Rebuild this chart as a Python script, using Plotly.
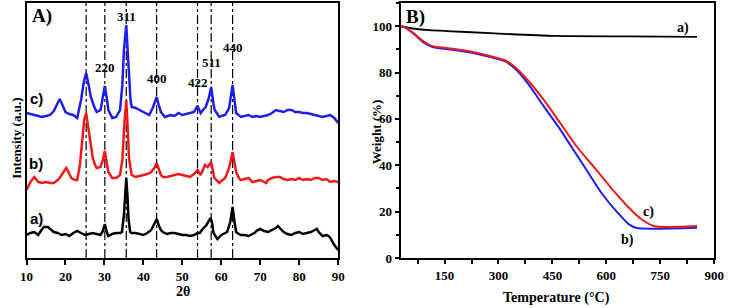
import plotly.graph_objects as go

# ---------------- XRD (panel A) ----------------
theta_a = [10, 11, 12, 13, 14, 14.5, 15.5, 16, 17, 18, 19, 20, 21, 22, 23, 24, 25, 26, 27, 28, 29, 29.6, 30.1, 30.6,
           31, 32, 33, 34, 34.5, 35, 35.3, 35.6, 35.9, 36.2, 36.6, 37, 38, 39, 40, 41, 42, 42.8, 43.4, 44, 44.5, 45,
           46, 47, 48, 49, 50, 51, 52, 53, 53.9, 54.5, 55, 56.2, 56.8, 57.2, 57.6, 58, 59, 60, 61, 61.5, 62.3, 62.9,
           63.4, 63.8, 64.5, 65, 66, 67, 68, 68.5, 69, 70, 71, 72, 73, 74, 74.5, 75, 76, 77, 78, 79, 80, 81, 82, 83,
           84, 84.5, 85, 86, 87, 87.5, 88, 89, 90]
ypix_a = [235, 233, 232, 235, 229, 227, 227, 229, 232, 233, 235, 234, 236, 233, 231, 233, 235, 234, 233, 234, 235, 231, 224, 232,
          236, 234, 233, 233, 232, 215, 195, 178, 195, 220, 232, 233, 233, 234, 235, 233, 230, 224, 219, 226, 230, 232,
          234, 233, 233, 234, 235, 235, 236, 235, 233, 233, 230, 225, 221, 218, 222, 233, 239, 235, 233, 232, 222, 207,
          222, 232, 234, 235, 235, 236, 234, 233, 231, 229, 231, 232, 230, 228, 226, 228, 232, 234, 235, 233, 232, 234, 233, 232,
          230, 229, 232, 236, 235, 236, 238, 245, 250]

theta_b = [10, 10.5, 11, 12, 12.5, 13, 14, 15, 16, 17, 18, 18.5, 19.5, 20.2, 21, 21.5, 22.5, 23, 23.7, 24.3, 24.8, 25.3,
           25.8, 26.5, 27, 27.5, 28, 29, 29.6, 30.1, 30.6, 31, 32, 33, 34, 34.6, 35.1, 35.6, 36, 36.3, 37, 38, 39, 40,
           41, 42, 42.8, 43.4, 44, 44.5, 45, 46, 47, 48, 49, 50, 51, 52, 53, 53.9, 54.7, 55.3, 55.8, 56.5, 57, 57.4,
           58.2, 59, 59.5, 60, 61, 62, 62.9, 63.5, 63.8, 64.5, 65, 66, 67, 68, 69, 70, 71, 71.5, 72, 73, 74, 75, 76,
           77, 78, 79, 80, 81, 82, 83, 84, 85, 86, 87, 88, 89, 90]
ypix_b = [190, 186, 182, 177, 179, 182, 183, 182, 183, 183, 180, 178, 172, 168, 174, 178, 180, 180, 165, 140, 120, 113,
          125, 145, 158, 164, 168, 167, 160, 151, 162, 172, 178, 178, 175, 160, 125, 100, 130, 158, 175, 177, 176, 175,
          174, 172, 168, 163, 170, 175, 177, 177, 176, 175, 174, 175, 176, 177, 174, 170, 175, 170, 165, 167, 164, 162,
          178, 181, 183, 181, 178, 168, 152, 165, 172, 178, 180, 179, 178, 182, 181, 180, 182, 183, 180, 178, 177, 177, 179,
          180, 179, 180, 178, 180, 179, 180, 178, 178, 180, 179, 182, 181, 182]

theta_c = [10, 11, 12, 13, 14, 15, 16, 17, 18, 18.5, 19, 20, 21, 22, 23, 24, 24.7, 25.3, 26, 26.5, 27.3, 28, 29, 29.6,
           30.1, 30.6, 31, 32, 33, 34, 34.6, 35, 35.6, 36.2, 36.7, 37, 38, 39, 40, 41, 41.5, 42.5, 43.4, 44, 44.5,
           45.5, 47, 48, 49, 50, 51, 52, 53, 53.9, 54.7, 55.5, 56, 56.8, 57.4, 58, 58.3, 59.5, 60, 61, 62, 62.9, 63.5,
           63.8, 65, 66, 67, 68, 69, 70, 71, 72, 73, 74, 75, 76, 77, 78, 79, 80, 81, 82, 83, 84, 85, 86, 87, 88, 89,
           89.5, 90]
ypix_c = [113, 114, 115, 116, 117, 116, 115, 111, 102, 99, 103, 112, 114, 115, 118, 100, 82, 73, 86, 97, 106, 112, 110, 98,
          86, 98, 110, 118, 117, 110, 85, 50, 25, 67, 100, 107, 108, 110, 112, 114, 115, 107, 97, 106, 112,
          117, 115, 116, 113, 115, 114, 113, 112, 106, 113, 109, 107, 98, 87, 104, 110, 117, 116, 115, 108, 85, 104,
          113, 117, 116, 115, 117, 116, 117, 116, 115, 113, 110, 111, 112, 110, 110, 112, 112, 113, 113, 114, 115, 116, 117, 116, 115, 118,
          120, 123]

# intensity in arbitrary units (0 at axis bottom)
int_a = [258 - v for v in ypix_a]
int_b = [258 - v for v in ypix_b]
int_c = [258 - v for v in ypix_c]

peak_pos = [25.3, 30.1, 35.6, 43.4, 53.9, 57.4, 62.9]
peak_lbl = ["", "220", "311", "400", "422", "511", "440"]
peak_lbl_y = [0, 191, 242, 180, 176, 196, 211]

xrd_ticks = [10, 20, 30, 40, 50, 60, 70, 80, 90]

# ---------------- TGA (panel B) ----------------
temp_a = [28, 60, 109, 155, 290, 453, 663, 852]
wt_a = [100, 99.0, 98.3, 97.9, 96.9, 95.8, 95.6, 95.4]

temp_b = [28, 40, 64, 91, 118.5, 154.6, 218, 272, 317.7, 345, 381, 426, 471.7, 517, 544, 589, 635, 662, 684.5, 852]
wt_b = [100, 99.4, 96.7, 93.0, 90.9, 90.2, 88.8, 86.9, 84.9, 81.8, 75.4, 65.4, 55.4, 44.6, 38.2, 27.5, 18.9, 14.6, 12.9, 13.1]

temp_c = [28, 40, 64, 91, 118.5, 154.6, 218, 272, 317.7, 345, 381, 426, 471.7, 517, 571, 616.6, 662, 697.6, 734, 852]
wt_c = [100, 99.5, 97.0, 93.5, 91.3, 90.6, 89.2, 87.3, 85.3, 82.5, 76.8, 68.2, 58.2, 48.2, 38.2, 29.6, 21.8, 16.7, 13.7, 13.8]

tga_ticks = [150, 300, 450, 600, 750, 900]
wt_ticks = [0, 20, 40, 60, 80, 100]

BLUE = "rgb(30,30,235)"
RED = "rgb(240,25,25)"
BLACK = "rgb(0,0,0)"
SERIF = "Liberation Serif"

W, H = 735, 308
ML, MR, MT, MB = 0, 0, 3, 50
PH = H - MT - MB


def px(x):
    return (x - ML) / (W - ML - MR)


def py(y):
    return (H - MB - y) / PH


fig = go.Figure()

for th, it, col in [(theta_a, int_a, BLACK), (theta_b, int_b, RED), (theta_c, int_c, BLUE)]:
    fig.add_trace(go.Scatter(x=th, y=it, mode="lines", line=dict(color=col, width=2.5),
                             xaxis="x", yaxis="y", showlegend=False, hoverinfo="skip"))

for T, w, col, lw in [(temp_a, wt_a, BLACK, 1.8), (temp_b, wt_b, BLUE, 2), (temp_c, wt_c, RED, 2)]:
    fig.add_trace(go.Scatter(x=T, y=w, mode="lines", line=dict(color=col, width=lw, shape="spline", smoothing=0.6),
                             xaxis="x2", yaxis="y2", showlegend=False, hoverinfo="skip"))

shapes = []
for p in peak_pos:
    shapes.append(dict(type="line", xref="x", yref="y domain", x0=p, x1=p, y0=0, y1=1,
                       line=dict(color="black", width=1.2, dash="dashdot"), layer="below"))

ann = []
for p, lbl, yy in zip(peak_pos, peak_lbl, peak_lbl_y):
    if lbl:
        ann.append(dict(x=p, y=yy, xref="x", yref="y", text=lbl, showarrow=False,
                        xanchor="center", yanchor="middle",
                        font=dict(family=SERIF, size=13, color="black", weight="bold")))

for txt, x, y, fam, sz in [("A)", 36, 16, SERIF, 19), ("c)", 30, 98, "Liberation Sans", 15),
                           ("b)", 30, 163, "Liberation Sans", 15), ("a)", 30, 218, "Liberation Sans", 15),
                           ("B)", 418, 17, SERIF, 19), ("a)", 692, 28, SERIF, 14), ("c)", 657, 212, SERIF, 14),
                           ("b)", 635, 240, SERIF, 14)]:
    ann.append(dict(x=px(x), y=py(y), xref="paper", yref="paper", text=txt, showarrow=False,
                    xanchor="center", yanchor="middle",
                    font=dict(family=fam, size=sz, color="black", weight="bold")))

# axis titles
for txt, x, y, ang in [("2θ", 180, 291, 0), ("Temperature (°C)", 563, 298, 0),
                       ("Intensity (a.u.)", 9, 138, -90), ("Weight (%)", 378, 132, -90)]:
    ann.append(dict(x=px(x), y=py(y), xref="paper", yref="paper", text=txt, showarrow=False,
                    xanchor="center", yanchor="middle", textangle=ang,
                    font=dict(family=SERIF, size=14 if ang == 0 else 13, color="black", weight="bold")))

tickfont = dict(family=SERIF, size=13, color="black", weight="bold")
axis_common = dict(showline=True, linecolor="black", linewidth=2, mirror=True, showgrid=False,
                   zeroline=False, tickfont=tickfont, tickcolor="black", tickwidth=1.5)

fig.update_layout(
    width=W, height=H, margin=dict(l=ML, r=MR, t=MT, b=MB),
    paper_bgcolor="white", plot_bgcolor="white",
    xaxis=dict(domain=[px(20), px(339)], range=[10, 90], tickvals=xrd_ticks, ticks="outside", ticklen=5,
               **axis_common),
    yaxis=dict(domain=[0, 1], range=[0, 255], showticklabels=False, ticks="", anchor="x", **axis_common),
    xaxis2=dict(domain=[px(403), px(724)], range=[28, 900], tickvals=tga_ticks, ticks="outside", ticklen=4,
                anchor="y2", minor=dict(dtick=75, tick0=0, ticks="outside", ticklen=4, tickcolor="black"),
                **axis_common),
    yaxis2=dict(domain=[0, 1], range=[0, 110], tickvals=wt_ticks, ticks="outside", ticklen=4, anchor="x2",
                minor=dict(dtick=10, tick0=0, ticks="outside", ticklen=3, tickcolor="black"), **axis_common),
    shapes=shapes, annotations=ann,
)

fig.write_html("out.html", config={"displayModeBar": False},
               post_script="document.body.style.margin='0px';")
